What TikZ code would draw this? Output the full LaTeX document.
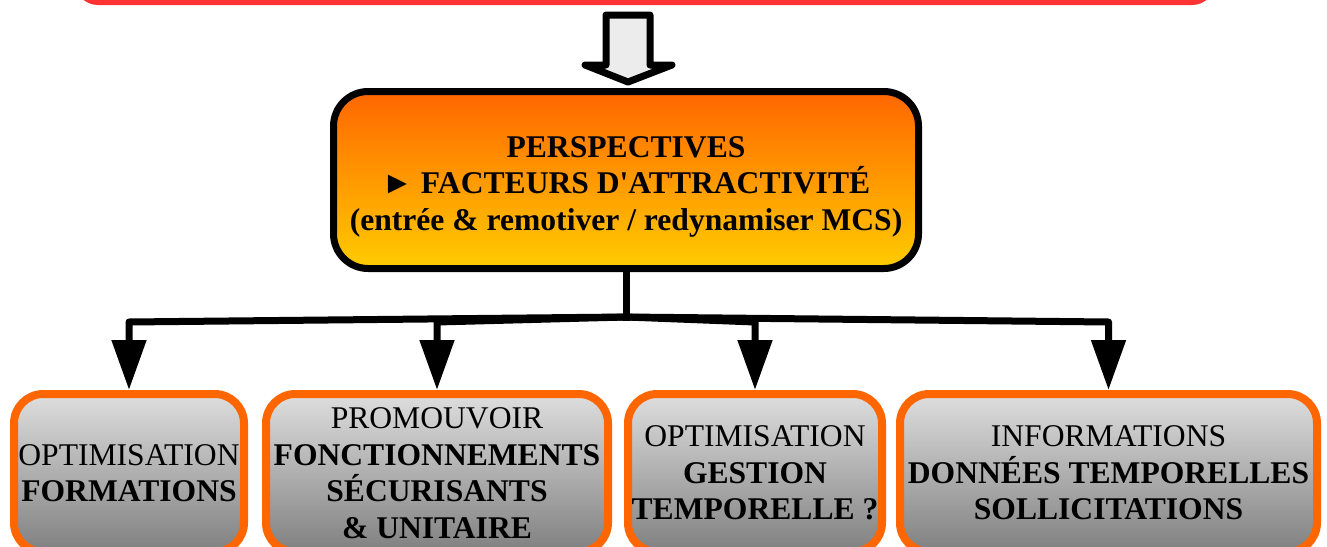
\documentclass[tikz,border=0pt]{standalone}
\usepackage{fontspec}
\setmainfont{Liberation Serif}
\usetikzlibrary{positioning, calc, arrows.meta}
\definecolor{framered}{RGB}{255, 51, 51}
\definecolor{persporange}{RGB}{255, 102, 0}
\definecolor{perspyellow}{RGB}{255, 204, 0}
\definecolor{boxorange}{RGB}{255, 102, 0}
\definecolor{boxtop}{RGB}{222, 222, 222}
\definecolor{boxbottom}{RGB}{128, 128, 128}
\definecolor{arrowgray}{RGB}{236, 236, 236}

\begin{document}
\begin{tikzpicture}[
  x=0.75pt, y=-0.75pt,
  sourcebox/.style={draw=framered, line width=4.5pt, fill=white, rounded corners=15pt, minimum width=850.5pt, minimum height=60pt, inner sep=0},
  mainbox/.style={draw=black, line width=5.25pt, rounded corners=26pt, top color=persporange, bottom color=perspyellow, minimum width=438.75pt, minimum height=132.75pt, inner sep=0, align=center, font=\fontsize{23.7}{27.4}\selectfont\bfseries},
  subbox/.style={draw=boxorange, line width=6pt, rounded corners=22pt, top color=boxtop, bottom color=boxbottom, minimum height=118.5pt, inner sep=0, align=center, font=\fontsize{23.7}{27.4}\selectfont},
  blockarrow/.style={draw=black, line width=5.25pt, line join=round, fill=arrowgray},
  trunk/.style={line width=5.25pt, line cap=rect},
  branch/.style={line width=5.25pt, line join=round, -{Triangle[length=37.5pt, width=25pt]}},
]
\useasboundingbox (0,0) rectangle (1327,546);
\clip (0,0) rectangle (1327,546);

% upper frame (cut by the page)
\node[sourcebox, anchor=south] (source) at (645,5) {};

% hollow arrow down
\draw[blockarrow] (606,15) -- (650,15) -- (650,65) -- (672,65) -- (628,82)
  -- (585,65) -- (606,65) -- cycle;

% central box
\node[mainbox] (title) at (626,180) {\rule{0pt}{26pt}PERSPECTIVES\\
  ► FACTEURS D\textquotesingle ATTRACTIVITÉ\\
  (entrée \& remotiver / redynamiser MCS)};

% four themes
\node[subbox, minimum width=172.5pt] (formations) at (129,473)
  {OPTIMISATION\\ \textbf{FORMATIONS}};
\node[subbox, minimum width=256.5pt] (securite) at (437,473)
  {PROMOUVOIR\\ \textbf{FONCTIONNEMENTS}\\ \textbf{SÉCURISANTS}\\ \textbf{\& UNITAIRE}};
\node[subbox, minimum width=190.5pt] (gestion) at (755,473)
  {OPTIMISATION\\ \textbf{GESTION}\\ \textbf{TEMPORELLE ?}};
\node[subbox, minimum width=312.75pt] (infos) at (1108.5,473)
  {INFORMATIONS\\ \textbf{DONNÉES TEMPORELLES}\\ \textbf{SOLLICITATIONS}};

% connectors
\coordinate (split) at (626,317);
\coordinate (busline) at (0,322);
\draw[trunk] (title.south) -- (split);
\foreach \target in {formations, securite, gestion, infos}
  \draw[branch] (split) -- (\target.north |- busline) -- (\target.north);

\end{tikzpicture}
\end{document}
